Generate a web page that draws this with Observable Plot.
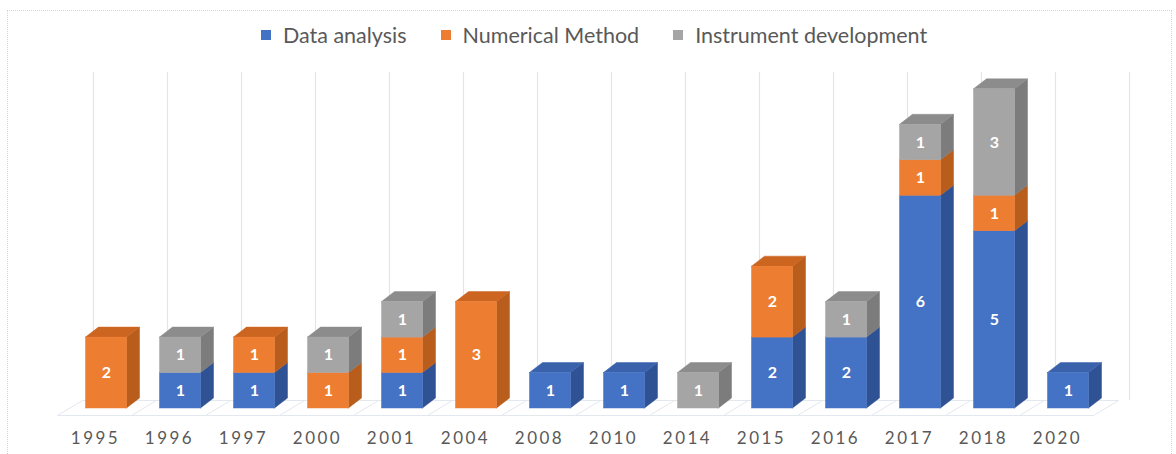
<!DOCTYPE html>
<html>
<head>
<meta charset="utf-8">
<script src="https://cdn.jsdelivr.net/npm/d3@7"></script>
<script src="https://cdn.jsdelivr.net/npm/@observablehq/plot@0.6"></script>
<style>
  html, body { margin: 0; padding: 0; background: #fff; }
  #wrap { position: relative; width: 1176px; height: 454px; overflow: hidden; font-family: Lato, "Open Sans", sans-serif; }
  #frame { position: absolute; left: 7px; top: 10px; width: 1165px; height: 470px; border: 1px dotted #d6d6d6; box-sizing: border-box; pointer-events: none; }
  #legend { position: relative; top: 2px; height: 46px; display: flex; justify-content: center; align-items: flex-end; padding-left: 12px; box-sizing: border-box; }
  .item { display: flex; align-items: center; font-size: 21.5px; color: #595959; margin: 0 17px; }
  .sw { width: 10px; height: 10px; margin-right: 12px; }
</style>
</head>
<body>
<div id="wrap">
  <div id="frame"></div>
  <div id="legend"></div>
  <div id="chart"></div>
</div>
<script>
// Publications per year, split by topic
const years = ["1995", "1996", "1997", "2000", "2001", "2004", "2008", "2010", "2014", "2015", "2016", "2017", "2018", "2020"];
const seriesNames = ["Data analysis", "Numerical Method", "Instrument development"];
const dataAnalysis    = [0, 1, 1, 0, 1, 0, 1, 1, 0, 2, 2, 6, 5, 1];
const numericalMethod = [2, 0, 1, 1, 1, 3, 0, 0, 0, 2, 0, 1, 1, 0];
const instrumentDev   = [0, 1, 0, 1, 1, 0, 0, 0, 1, 0, 1, 1, 3, 0];

// Face shades per series: front, side, top
const frontColors = ["#4472C4", "#ED7D31", "#A5A5A5"];
const sideColors  = ["#2F5294", "#B95D1D", "#7C7C7C"];
const topColors   = ["#3A62AC", "#CC6520", "#8C8C8C"];

const seriesValues = [dataAnalysis, numericalMethod, instrumentDev];

// Layout
const width = 1176, height = 408;
const marginLeft = 69, marginRight = 71, marginTop = 34, marginBottom = 46;
const yMax = 9.25;
const pxPerX = (width - marginLeft - marginRight) / years.length;
const pxPerY = (height - marginTop - marginBottom) / yMax;
const halfW = 20.5 / pxPerX;          // half of the front face width
const depthX = 13 / pxPerX;           // bar depth, horizontal part
const depthY = 10 / pxPerY;           // bar depth, vertical part

// Stack the segments per year
const segments = [];
years.forEach((year, i) => {
  let base = 0;
  const parts = [];
  seriesValues.forEach((vals, s) => {
    const v = vals[i];
    if (v > 0) {
      parts.push({id: `${i}-${s}`, i, s, v, y1: base, y2: base + v, top: false});
      base += v;
    }
  });
  if (parts.length) parts[parts.length - 1].top = true;
  segments.push(...parts);
});

// Side faces (parallelograms to the right of each front face)
const sidePts = segments.flatMap(d => [
  {id: d.id, c: sideColors[d.s], x: d.i + halfW, y1: d.y1, y2: d.y2},
  {id: d.id, c: sideColors[d.s], x: d.i + halfW + depthX, y1: d.y1 + depthY, y2: d.y2 + depthY}
]);
// Top faces (only on the highest segment of each bar)
const topPts = segments.filter(d => d.top).flatMap(d => [
  {id: d.id, c: topColors[d.s], y: d.y2, x1: d.i - halfW, x2: d.i + halfW},
  {id: d.id, c: topColors[d.s], y: d.y2 + depthY, x1: d.i - halfW + depthX, x2: d.i + halfW + depthX}
]);

// Floor: category boundaries projected to front and back edges
const bounds = d3.range(years.length + 1).map(k => k - 0.5);
const floorFrontX = -12 / pxPerX, floorFrontY = -7 / pxPerY;
const floorBackX = 13 / pxPerX, floorBackY = 8 / pxPerY;
const floorLinks = bounds.map(b => ({x1: b + floorFrontX, y1: floorFrontY, x2: b + floorBackX, y2: floorBackY}));
const floorEdges = [
  {x1: bounds[0] + floorFrontX, y1: floorFrontY, x2: bounds[bounds.length - 1] + floorFrontX, y2: floorFrontY},
  {x1: bounds[0] + floorBackX, y1: floorBackY, x2: bounds[bounds.length - 1] + floorBackX, y2: floorBackY}
];

const chart = Plot.plot({
  width, height, marginLeft, marginRight, marginTop, marginBottom,
  x: {type: "linear", domain: [-0.5, years.length - 0.5], axis: null},
  y: {type: "linear", domain: [0, yMax], axis: null},
  color: {type: "identity"},
  style: {fontFamily: "Lato, 'Open Sans', sans-serif", background: "transparent"},
  marks: [
    // back-wall gridlines
    Plot.ruleX(bounds, {x: d => d, y1: 0, y2: yMax, dx: 24, dy: -8, stroke: "#e4e4e4", strokeWidth: 1.2}),
    // floor outline
    Plot.link(floorEdges, {x1: "x1", y1: "y1", x2: "x2", y2: "y2", stroke: "#e3e8ef", strokeWidth: 1}),
    Plot.link(floorLinks, {x1: "x1", y1: "y1", x2: "x2", y2: "y2", stroke: "#e3e8ef", strokeWidth: 1}),
    // bars
    Plot.areaY(sidePts, {x: "x", y1: "y1", y2: "y2", z: "id", fill: "c", stroke: "c", strokeWidth: 0.5}),
    Plot.areaX(topPts, {y: "y", x1: "x1", x2: "x2", z: "id", fill: "c", stroke: "c", strokeWidth: 0.5}),
    Plot.rect(segments, {x1: d => d.i - halfW, x2: d => d.i + halfW, y1: "y1", y2: "y2",
      fill: d => frontColors[d.s], stroke: d => frontColors[d.s], strokeWidth: 0.5}),
    // value labels
    Plot.text(segments, {x: "i", y: d => (d.y1 + d.y2) / 2, text: d => String(d.v),
      fill: "white", fontWeight: "bold", fontSize: 16}),
    // year labels along the floor front
    Plot.text(years, {x: (d, i) => i, y: 0, text: d => d, dx: -11, dy: 30,
      fill: "#595959", fontSize: 17})
  ]
});
// spaced-out year labels
d3.select(chart).selectAll("text")
  .filter(function() { return years.includes(this.textContent); })
  .attr("letter-spacing", "2.5px")
  .style("letter-spacing", "2.5px");
document.getElementById("chart").appendChild(chart);

// Legend
const legend = document.getElementById("legend");
seriesNames.forEach((name, s) => {
  const item = document.createElement("div");
  item.className = "item";
  const sw = document.createElement("span");
  sw.className = "sw";
  sw.style.background = frontColors[s];
  const label = document.createElement("span");
  label.textContent = name;
  item.appendChild(sw);
  item.appendChild(label);
  legend.appendChild(item);
});
</script>
</body>
</html>
